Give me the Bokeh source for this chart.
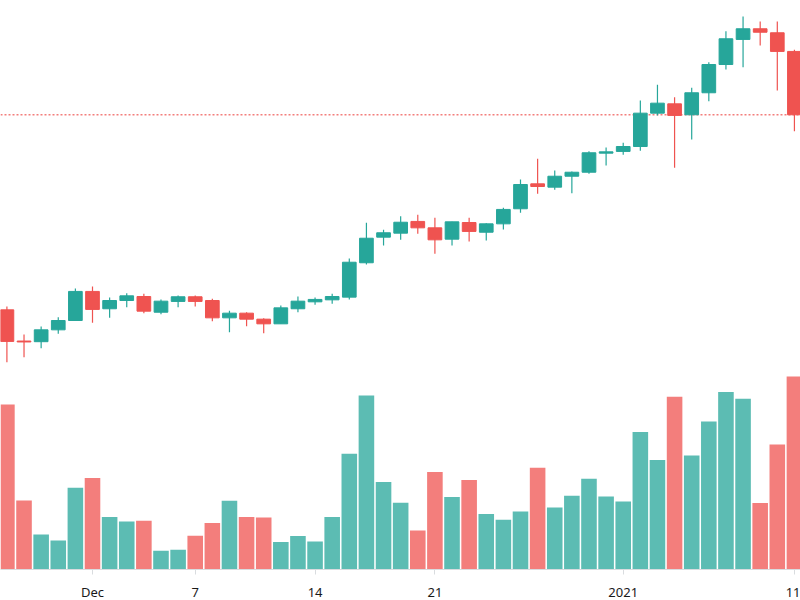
import pandas as pd
from bokeh.plotting import figure
from bokeh.models import Range1d, FixedTicker, Span, ColumnDataSource
from bokeh.embed import file_html
from bokeh.resources import INLINE

# Daily OHLC + volume, 26 Nov 2020 .. 11 Jan 2021
dates = pd.date_range("2020-11-26", "2021-01-11", freq="D").strftime("%Y-%m-%d").tolist()

opens = [20250, 17910, 17860, 18750, 19450, 21630, 20330, 20950, 21250, 20070,
         20880, 21230, 20950, 19650, 20000, 19550, 19200, 20330, 20850, 21000,
         21200, 23780, 25700, 26000, 26880, 26400, 25550, 26800, 26070, 26700,
         27830, 29700, 29450, 30270, 30570, 32000, 32130, 32500, 35000, 35700,
         34880, 36530, 38650, 40530, 41330, 41030, 39630]
highs = [20500, 18400, 19000, 19700, 21850, 22000, 21180, 21500, 21450, 21030,
         21330, 21330, 21080, 20180, 20070, 19620, 20580, 21250, 21180, 21450,
         24100, 26780, 26250, 27270, 27380, 27150, 26850, 27150, 26750, 27900,
         30030, 31580, 30700, 30630, 32150, 32430, 32780, 35950, 37130, 36200,
         36900, 38820, 41150, 42250, 41880, 41880, 39750]
lows = [16320, 16700, 17370, 18450, 19450, 19280, 19650, 20450, 20000, 19920,
        20450, 20500, 19400, 18570, 19020, 18500, 19200, 20070, 20630, 20700,
        21030, 23650, 25080, 25500, 25950, 24450, 25080, 25380, 25450, 26280,
        27530, 28950, 29250, 29000, 30450, 31080, 31880, 32180, 34830, 30900,
        33030, 35900, 38280, 38450, 40080, 36700, 33650]
closes = [17880, 17840, 18750, 19450, 21630, 20280, 20950, 21300, 20150, 20900,
          21230, 20880, 19650, 20000, 19550, 19200, 20400, 20900, 21030, 21250,
          23820, 25620, 26030, 26820, 26400, 25500, 26850, 26130, 26700, 27780,
          29650, 29500, 30270, 30570, 32030, 32100, 32500, 35000, 35750, 34830,
          36530, 38650, 40580, 41330, 41070, 39630, 34880]
# volume, thousands
volumes = [82.5, 34.5, 17.5, 14.5, 40.9, 45.7, 26.2, 24.0, 24.4, 9.4,
           9.9, 16.9, 23.2, 34.4, 26.2, 26.0, 13.7, 16.7, 14.0, 26.2,
           57.9, 87.0, 43.7, 33.4, 19.5, 48.7, 36.2, 44.7, 27.7, 24.9,
           29.0, 50.9, 31.0, 36.9, 45.4, 36.5, 34.0, 68.7, 54.7, 86.4,
           57.0, 74.0, 88.7, 85.4, 33.2, 62.5, 96.5]

tick_dates = ["2020-12-01", "2020-12-07", "2020-12-14", "2020-12-21", "2021-01-01", "2021-01-11"]
tick_labels = ["Dec", "7", "14", "21", "2021", "11"]

UP, DOWN = "#26a69a", "#ef5350"
VOL_UP, VOL_DOWN = "#5cbcb3", "#f37e7c"
TEXT = "#191919"
FONT = "Noto Sans"

x = list(range(len(dates)))
rising = [c >= o for o, c in zip(opens, closes)]
src = ColumnDataSource(dict(
    x=x,
    open=opens, high=highs, low=lows, close=closes, volume=volumes,
    body_top=[max(o, c) for o, c in zip(opens, closes)],
    body_bottom=[min(o, c) for o, c in zip(opens, closes)],
    color=[UP if r else DOWN for r in rising],
    vcolor=[VOL_UP if r else VOL_DOWN for r in rising],
))

p = figure(frame_width=800, frame_height=569,
           x_range=Range1d(-0.374, 46.355), y_range=Range1d(775, 43450),
           y_axis_location=None, toolbar_location=None, output_backend="svg",
           min_border=0, outline_line_color=None,
           background_fill_color="white", border_fill_color="white")
p.xgrid.visible = False
p.ygrid.visible = False

# volume histogram on its own scale at the bottom of the pane
p.extra_y_ranges = {"vol": Range1d(0, 284.5)}
p.vbar(x="x", width=0.91, top="volume", bottom=0, y_range_name="vol",
       fill_color="vcolor", line_color=None, source=src)

# last price line
p.add_layout(Span(location=closes[-1], dimension="width", line_color=DOWN,
                  line_dash="2 2", line_width=1.3, line_alpha=0.75, level="underlay"))

# candles
p.segment(x0="x", y0="high", x1="x", y1="low", line_color="color", line_width=1.2, source=src)
p.vbar(x="x", width=0.8, top="body_top", bottom="body_bottom",
       fill_color="color", line_color="color", line_width=1, source=src)

# time axis
tick_pos = [dates.index(d) for d in tick_dates]
ax = p.xaxis[0]
ax.ticker = FixedTicker(ticks=tick_pos)
ax.major_label_overrides = dict(zip(tick_pos, tick_labels))
ax.axis_line_color = "#d9dcdf"
ax.major_tick_line_color = "#d9dcdf"
ax.minor_tick_line_color = None
ax.major_tick_in = 0
ax.major_tick_out = 5
ax.major_label_standoff = 8
ax.major_label_text_font = FONT
ax.major_label_text_font_size = "13px"
ax.major_label_text_color = TEXT

open("out.html", "w").write(file_html(p, INLINE))
